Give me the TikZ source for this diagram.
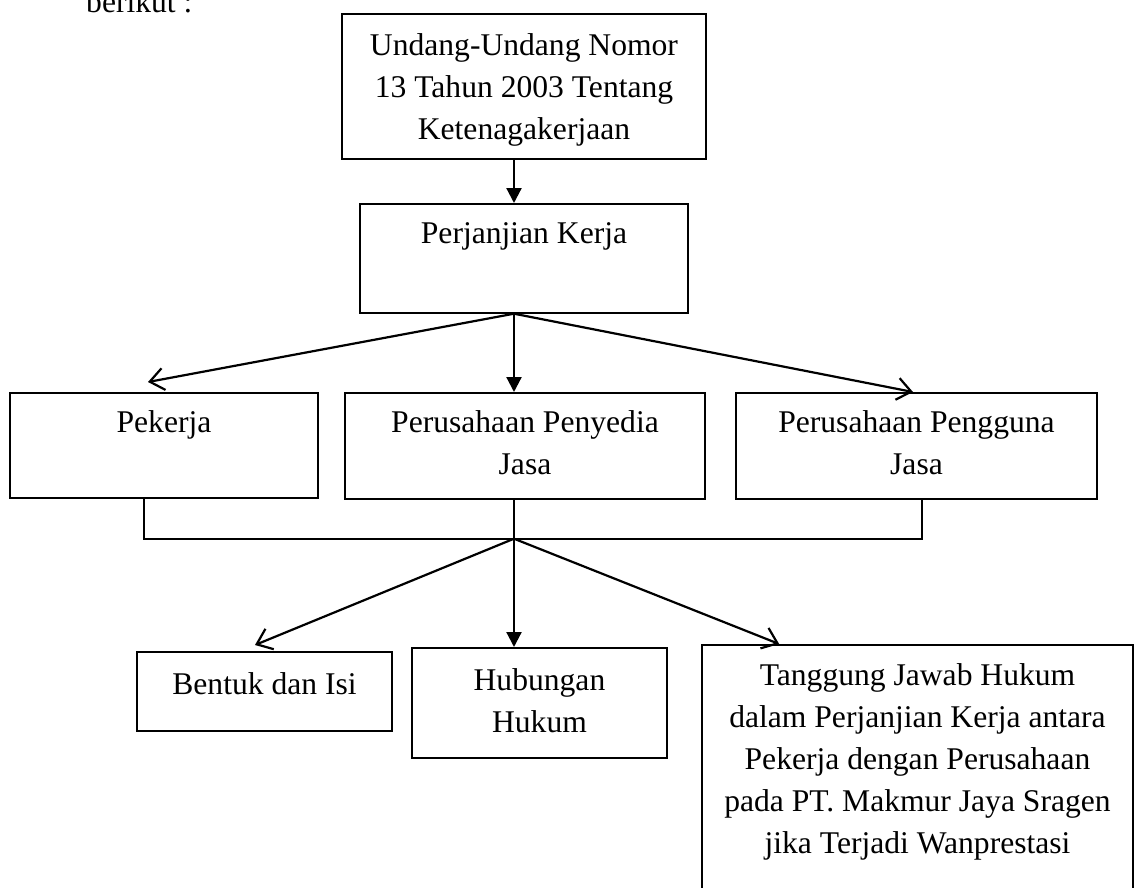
\documentclass[tikz,border=0pt]{standalone}
\usepackage{fontspec}
\setmainfont{Liberation Serif}
\usetikzlibrary{arrows.meta}

\tikzset{
  box/.style={draw, line width=1.7pt, anchor=north, align=flush center, inner xsep=0pt, inner ysep=0pt},
  arrowopen/.style={line width=2.2pt, -{Straight Barb[length=14pt, width=22pt]}},
  arrowfilled/.style={line width=2.2pt, -{Triangle[length=15pt, width=15pt]}},
  joinline/.style={line width=1.7pt}
}

\begin{document}
\begin{tikzpicture}[x=1pt, y=-1pt, font=\fontsize{31.6pt}{42pt}\selectfont]
  \useasboundingbox (0,0) rectangle (1136,887);
  \node[anchor=base west, inner sep=0pt] (intro) at (86,12) {berikut :};

  \node[box, text width=364pt, text height=42pt, text depth=103pt] (law) at (524,13)
    {Undang-Undang Nomor\\13 Tahun 2003 Tentang\\Ketenagakerjaan};
  \node[box, text width=328pt, text height=40pt, text depth=69pt] (pk) at (524,203)
    {Perjanjian Kerja};

  \node[box, text width=308pt, text height=40pt, text depth=65pt] (pekerja) at (164,392)
    {Pekerja};
  \node[box, text width=360pt, text height=40pt, text depth=66pt] (penyedia) at (525,392)
    {Perusahaan Penyedia\\Jasa};
  \node[box, text width=361pt, text height=40pt, text depth=66pt] (pengguna) at (916.5,392)
    {Perusahaan Pengguna\\Jasa};

  \node[box, text width=255pt, text height=43pt, text depth=36pt] (bentuk) at (264.5,651)
    {Bentuk dan Isi};
  \node[box, text width=255pt, text height=43pt, text depth=67pt] (hubungan) at (539.5,647)
    {Hubungan\\Hukum};
  \node[box, text width=431pt, text height=41pt, text depth=215pt] (tanggung) at (917.5,644)
    {Tanggung Jawab Hukum\\dalam Perjanjian Kerja antara\\Pekerja dengan Perusahaan\\pada PT. Makmur Jaya Sragen\\jika Terjadi Wanprestasi};

  % top part
  \coordinate (pkout) at ([xshift=-10pt]pk.south);
  \draw[arrowfilled] ([xshift=-10pt]law.south) -- ([xshift=-10pt]pk.north);
  \draw[arrowopen] (pkout) -- ([xshift=-16pt, yshift=10pt]pekerja.north);
  \draw[arrowfilled] (pkout) -- (pkout |- penyedia.north);
  \draw[arrowopen] (pkout) -- ([xshift=-3.5pt]pengguna.north);

  % join of the three parties
  \coordinate (join) at ([xshift=-11pt, yshift=-39pt]penyedia.south);
  \draw[joinline] ([xshift=-20pt]pekerja.south) |- (join) -| ([xshift=5.5pt]pengguna.south);
  \draw[joinline] ([xshift=-11pt]penyedia.south) -- (join);

  \draw[arrowopen] (join) -- ([xshift=-9.5pt, yshift=6pt]bentuk.north);
  \draw[arrowfilled] (join) -- (join |- hubungan.north);
  \draw[arrowopen] (join) -- ([xshift=78pt]tanggung.north west);
\end{tikzpicture}
\end{document}
